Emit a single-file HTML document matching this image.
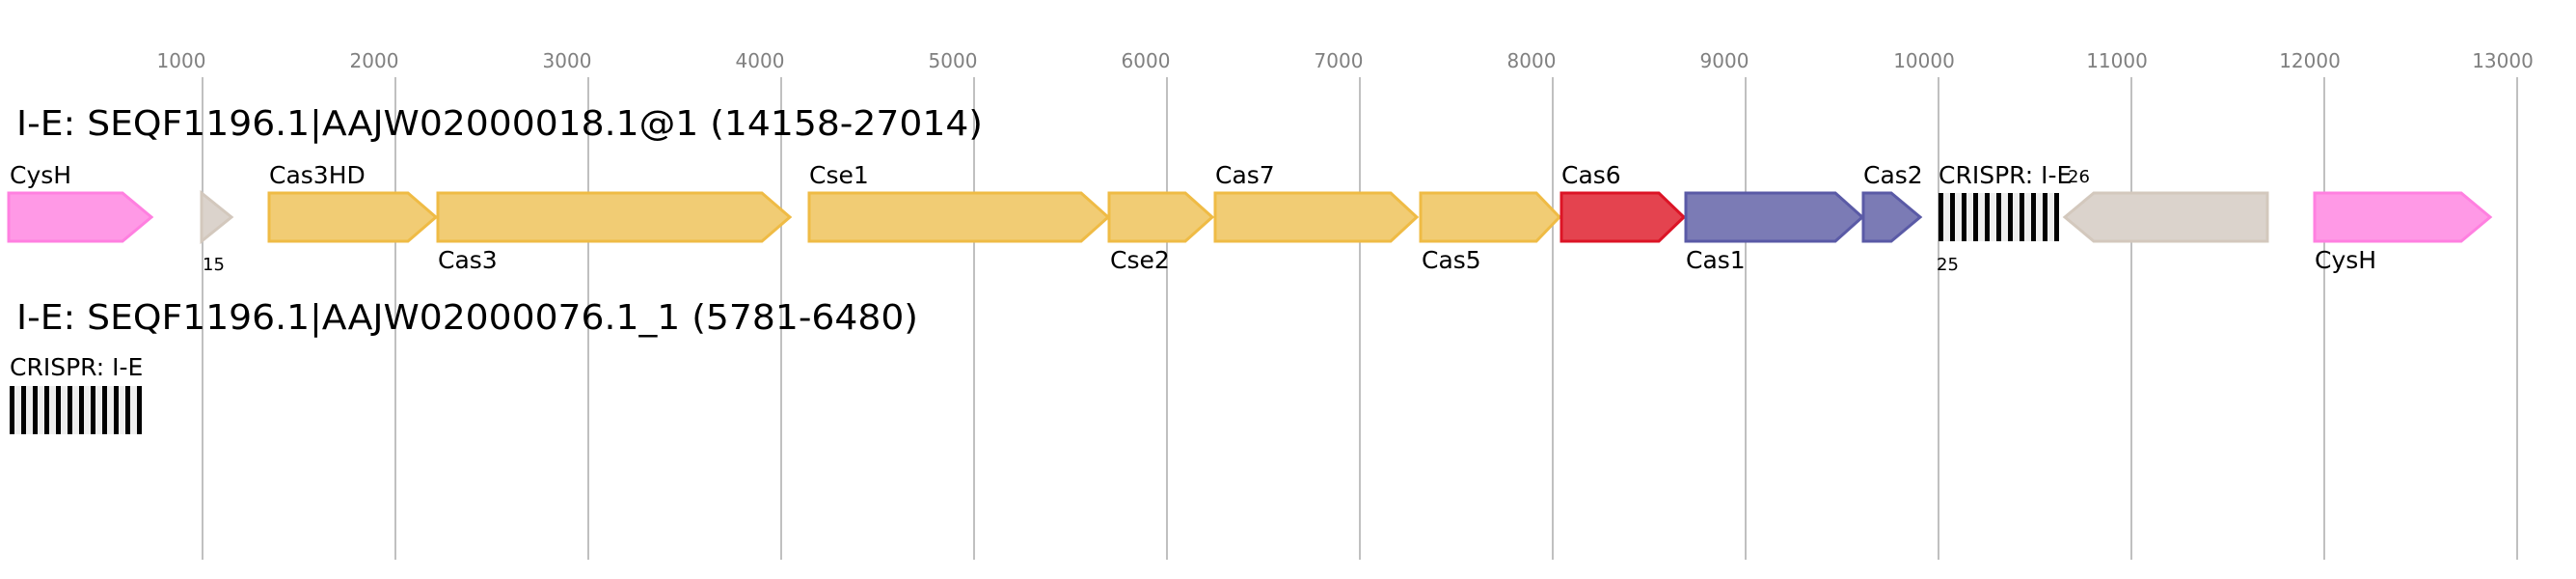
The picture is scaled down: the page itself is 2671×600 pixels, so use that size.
<!DOCTYPE html>
<html><head><meta charset="utf-8"><style>
html,body{margin:0;padding:0;background:#fff;}
svg{display:block;font-family:"DejaVu Sans","Liberation Sans",sans-serif;}
</style></head><body>
<svg width="2671" height="600" viewBox="0 0 2671 600" xmlns="http://www.w3.org/2000/svg">
<defs>
<pattern id="cr" x="2010" y="0" width="12" height="10" patternUnits="userSpaceOnUse">
<rect x="0" y="0" width="12" height="10" fill="#eeeeee"/><rect x="0" y="0" width="5" height="10" fill="#000"/>
</pattern>
<pattern id="cr2" x="10" y="0" width="12" height="10" patternUnits="userSpaceOnUse">
<rect x="0" y="0" width="12" height="10" fill="#eeeeee"/><rect x="0" y="0" width="5" height="10" fill="#000"/>
</pattern>
</defs>
<g stroke="#c0c0c0" stroke-width="2">
<line x1="210" y1="80" x2="210" y2="580"/><line x1="410" y1="80" x2="410" y2="580"/>
<line x1="610" y1="80" x2="610" y2="580"/><line x1="810" y1="80" x2="810" y2="580"/>
<line x1="1010" y1="80" x2="1010" y2="580"/><line x1="1210" y1="80" x2="1210" y2="580"/>
<line x1="1410" y1="80" x2="1410" y2="580"/><line x1="1610" y1="80" x2="1610" y2="580"/>
<line x1="1810" y1="80" x2="1810" y2="580"/><line x1="2010" y1="80" x2="2010" y2="580"/>
<line x1="2210" y1="80" x2="2210" y2="580"/><line x1="2410" y1="80" x2="2410" y2="580"/>
<line x1="2610" y1="80" x2="2610" y2="580"/>
</g>
<g fill="#808080" font-size="20" text-anchor="middle">
<text x="188" y="70">1000</text><text x="388" y="70">2000</text><text x="588" y="70">3000</text>
<text x="788" y="70">4000</text><text x="988" y="70">5000</text><text x="1188" y="70">6000</text>
<text x="1388" y="70">7000</text><text x="1588" y="70">8000</text><text x="1788" y="70">9000</text>
<text x="1995" y="70">10000</text><text x="2195" y="70">11000</text><text x="2395" y="70">12000</text>
<text x="2595" y="70">13000</text>
</g>
<text x="17" y="140" font-size="36" textLength="1002" lengthAdjust="spacingAndGlyphs">I-E: SEQF1196.1|AAJW02000018.1@1 (14158-27014)</text>
<text x="17" y="341" font-size="36" textLength="935" lengthAdjust="spacingAndGlyphs">I-E: SEQF1196.1|AAJW02000076.1_1 (5781-6480)</text>
<g stroke-width="3" stroke-linejoin="miter">
<polygon points="9,200 127,200 157,225 127,250 9,250" fill="#ff99e6" stroke="#ff80e0"/>
<polygon points="209,200 240,225 209,250" fill="#dbd3cc" stroke="#d3c8bd"/>
<g fill="#f1cc74" stroke="#efbb45">
<polygon points="279,200 423,200 452,225 423,250 279,250"/>
<polygon points="454,200 790,200 819,225 790,250 454,250"/>
<polygon points="839,200 1121,200 1149,225 1121,250 839,250"/>
<polygon points="1150,200 1229,200 1257,225 1229,250 1150,250"/>
<polygon points="1260,200 1442,200 1469,225 1442,250 1260,250"/>
<polygon points="1473,200 1593,200 1617,225 1593,250 1473,250"/>
</g>
<polygon points="1619,200 1720,200 1746,225 1720,250 1619,250" fill="#e4434f" stroke="#dc1426"/>
<g fill="#7b7bb5" stroke="#5a5aa6">
<polygon points="1748,200 1903,200 1931,225 1903,250 1748,250"/>
<polygon points="1932,200 1961,200 1991,225 1961,250 1932,250"/>
</g>
<polygon points="2141,225 2171,200 2351,200 2351,250 2171,250" fill="#dbd3cc" stroke="#d3c8bd"/>
<polygon points="2400,200 2552,200 2582,225 2552,250 2400,250" fill="#ff99e6" stroke="#ff80e0"/>
</g>
<rect x="2010" y="200" width="125" height="50" fill="url(#cr)"/>
<rect x="10" y="400" width="137" height="50" fill="url(#cr2)"/>
<g font-size="25" fill="#000">
<text x="10" y="190">CysH</text>
<text x="279" y="190">Cas3HD</text>
<text x="839" y="190">Cse1</text>
<text x="1260" y="190">Cas7</text>
<text x="1619" y="190">Cas6</text>
<text x="1932" y="190">Cas2</text>
<text x="2010" y="190">CRISPR: I-E</text>
<text x="454" y="278">Cas3</text>
<text x="1151" y="278">Cse2</text>
<text x="1474" y="278">Cas5</text>
<text x="1748" y="278">Cas1</text>
<text x="2400" y="278">CysH</text>
<text x="10" y="389">CRISPR: I-E</text>
</g>
<g font-size="18" fill="#000">
<text x="210" y="280">15</text>
<text x="2008" y="280">25</text>
<text x="2144" y="189">26</text>
</g>
</svg>
</body></html>
